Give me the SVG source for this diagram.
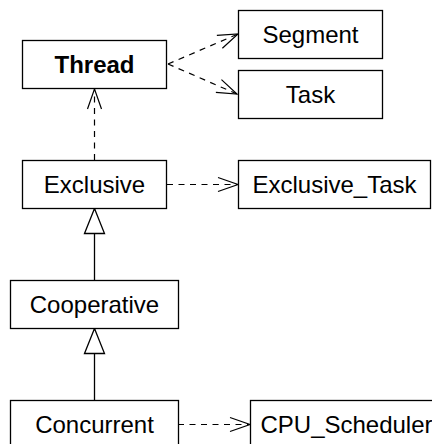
<svg xmlns="http://www.w3.org/2000/svg" width="432" height="444" viewBox="0 0 432 444">
<style>
.box{fill:#fff;stroke:#000;stroke-width:1.3}
.lbl{font-family:"Liberation Sans",Arial,sans-serif;font-size:24px;fill:#000;text-anchor:middle}
.bold{font-weight:bold}
.dep{fill:none;stroke:#000;stroke-width:1.2;stroke-dasharray:6,5.5}
.gen{fill:none;stroke:#000;stroke-width:1.3}
</style>
<defs>
<marker id="open" markerUnits="userSpaceOnUse" markerWidth="24" markerHeight="18" refX="20" refY="8" orient="auto" overflow="visible">
<path d="M0,1 L20,8 L0,15" fill="none" stroke="#000" stroke-width="1.2"/>
</marker>
<marker id="tri" markerUnits="userSpaceOnUse" markerWidth="28" markerHeight="24" refX="25" refY="11" orient="auto" overflow="visible">
<path d="M0,1 L25,11 L0,21 Z" fill="#fff" stroke="#000" stroke-width="1.3"/>
</marker>
</defs>
<rect width="432" height="444" fill="#fff"/>
<g id="connectors">
<path class="dep" d="M168,64 L238,34" marker-end="url(#open)"/>
<path class="dep" d="M168,64 L237,94" marker-end="url(#open)"/>
<path class="dep" d="M94.5,160 L94.5,89" marker-end="url(#open)"/>
<path class="dep" d="M167,184.5 L238,184.5" marker-end="url(#open)"/>
<path class="dep" d="M178,424.5 L250,424.5" marker-end="url(#open)"/>
<path class="gen" d="M94.5,280 L94.5,208.5" marker-end="url(#tri)"/>
<path class="gen" d="M94.5,400 L94.5,328.5" marker-end="url(#tri)"/>
</g>
<g id="thread">
<rect class="box" x="22.5" y="40.5" width="144" height="48"/>
<text class="lbl bold" x="94.5" y="73">Thread</text>
</g>
<g id="segment">
<rect class="box" x="238.5" y="10.5" width="144" height="48"/>
<text class="lbl" x="310.5" y="43">Segment</text>
</g>
<g id="task">
<rect class="box" x="238.5" y="70.5" width="144" height="48"/>
<text class="lbl" x="310.5" y="103">Task</text>
</g>
<g id="exclusive">
<rect class="box" x="22.5" y="160.5" width="144" height="48"/>
<text class="lbl" x="94.5" y="193">Exclusive</text>
</g>
<g id="exclusive_task">
<rect class="box" x="238.5" y="160.5" width="192" height="48"/>
<text class="lbl" x="334.5" y="193">Exclusive_Task</text>
</g>
<g id="cooperative">
<rect class="box" x="10.5" y="280.5" width="168" height="48"/>
<text class="lbl" x="94.5" y="313">Cooperative</text>
</g>
<g id="concurrent">
<rect class="box" x="10.5" y="400.5" width="168" height="48"/>
<text class="lbl" x="94.5" y="433">Concurrent</text>
</g>
<g id="cpu_scheduler">
<rect class="box" x="250.5" y="400.5" width="192" height="48"/>
<text class="lbl" x="346.5" y="433">CPU_Scheduler</text>
</g>
</svg>
